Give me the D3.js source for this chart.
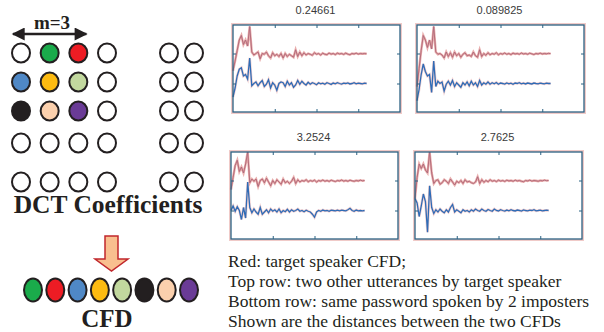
<!DOCTYPE html>
<html>
<head>
<meta charset="utf-8">
<script src="https://cdn.jsdelivr.net/npm/d3@7"></script>
<style>
  body { margin: 0; background: #fff; }
  svg { display: block; }
</style>
</head>
<body>
<svg id="fig" width="604" height="332"></svg>
<script>
// left panel: DCT coefficient grid and the CFD made from it
const gridRows = [0, 1, 2, 3, 4]
const gridCols = [0, 1, 2, 3]
const tailCols = [0, 1]
const gridColors = [
  [null, "#1aab4b", "#ed1c24", null],
  ["#4f88c6", "#fdbb11", "#c2d89e", null],
  ["#231f20", "#fbd0ad", "#6a3b96", null]
]
const cfdColors = ["#1aab4b", "#ed1c24", "#4f88c6", "#fdbb11", "#c2d89e", "#231f20", "#fbd0ad", "#6a3b96"]

// right panel: 4 small plots
const plotTitles = ["0.24661", "0.089825", "3.2524", "2.7625"]
const xTicks = [20, 40, 60]
const yTicks = [-1, 1]

const red1 = [-0.15,0.5,1.2,1.9,2.2,1.6,1.9,1.5,2.8,1.1,0.9,1.0,1.1,0.65,1.0,0.95,1.1,0.85,0.7,1.05,0.85,0.95,0.8,1.0,0.7,1.0,0.8,0.95,0.85,0.75,1.25,0.8,1.1,0.85,1.05,0.9,1.0,0.95,0.88,1.05,0.95,1.0,0.9,1.02,0.95,0.92,1.03,0.96,1.0,0.93,1.02,0.97,1.0,0.94,1.02,0.96,0.92,1.0,0.97,1.02,0.96,1.0,0.98,1.0,0.98]
const blue1 = [-1.9,-1.3,-0.5,-0.05,0.05,-0.5,-0.4,-0.7,0.7,-1.15,-1.0,-0.9,-1.15,-0.95,-0.8,-1.2,-1.05,-0.75,-1.3,-0.95,-1.1,-1.45,-1.0,-0.9,-0.95,-1.2,-0.85,-1.1,-0.95,-1.25,-1.1,-0.8,-1.05,-0.85,-1.0,-1.1,-0.92,-1.05,-0.95,-1.0,-1.08,-0.95,-1.02,-0.98,-1.05,-0.95,-1.0,-1.06,-0.97,-1.02,-0.95,-1.0,-1.04,-0.98,-1.0,-0.96,-1.03,-1.0,-0.95,-1.02,-0.98,-1.0,-1.02,-0.98,-1.0]
const red2 = [-1.2,0.0,1.2,2.2,1.9,1.4,1.9,1.3,2.8,1.1,0.95,1.0,0.9,0.7,1.1,0.8,1.05,0.75,1.1,0.85,1.0,0.75,0.95,1.05,0.85,0.9,0.8,1.1,0.85,0.75,1.25,0.8,1.0,0.88,1.05,0.92,1.0,0.95,1.05,0.92,1.0,0.96,1.03,0.95,1.0,0.93,1.02,0.97,1.0,0.95,1.03,0.97,1.0,0.95,1.02,0.98,0.93,1.0,0.97,1.02,0.97,1.0,0.98,1.01,0.99]
const blue2 = [-2.15,-1.4,-0.4,0.3,-0.2,-0.5,-0.4,-1.6,0.5,-1.2,-0.85,-1.0,-0.9,-1.5,-1.05,-0.85,-1.1,-0.8,-1.2,-0.95,-1.1,-1.25,-0.95,-1.1,-0.9,-1.15,-0.85,-1.1,-0.95,-1.2,-0.8,-1.1,-0.95,-1.05,-0.9,-1.05,-0.95,-1.02,-0.93,-1.05,-0.97,-1.0,-1.04,-0.96,-1.02,-0.98,-1.05,-0.97,-1.0,-0.95,-1.02,-0.98,-1.03,-0.97,-1.0,-1.03,-0.97,-1.0,-1.02,-0.97,-1.0,-1.02,-0.98,-1.0,-1.0]
const red3 = [0.4,1.2,2.0,2.35,1.6,1.9,1.5,2.1,2.9,0.85,1.1,0.95,1.1,0.6,1.0,1.1,0.85,1.15,0.9,0.65,1.0,0.8,1.05,0.9,0.75,1.1,0.85,0.95,0.8,0.95,1.2,0.8,1.05,0.9,1.0,0.95,1.05,0.92,1.0,0.95,1.02,0.9,1.0,0.96,1.03,0.95,1.0,0.94,1.02,0.97,0.93,1.0,0.97,1.03,0.96,1.0,0.95,1.02,0.98,0.95,1.0,0.97,1.02,0.98,1.0]
const blue3 = [-1.0,-0.7,-1.05,-0.75,-1.0,-1.6,-0.8,-1.5,0.9,-0.8,-1.15,-0.9,-1.1,-1.25,-0.8,-1.25,-1.1,-0.95,-1.15,-0.9,-1.05,-0.95,-1.1,-0.9,-1.15,-1.0,-1.08,-0.92,-1.1,-0.95,-1.05,-1.0,-0.9,-1.05,-1.0,-1.08,-0.98,-1.05,-1.1,-1.25,-1.45,-1.1,-1.0,-1.05,-0.97,-1.02,-1.0,-1.05,-0.98,-1.0,-1.03,-0.98,-1.02,-0.97,-1.0,-1.02,-0.95,-0.85,-1.0,-1.05,-0.97,-1.02,-1.0,-1.03,-1.0]
const red4 = [-0.2,1.2,2.1,1.8,2.1,1.7,1.5,2.9,1.5,0.8,1.0,1.05,0.75,0.85,1.05,0.95,0.8,1.1,0.9,0.7,0.95,0.85,1.0,0.8,1.05,0.9,0.95,0.85,0.8,0.9,1.25,0.8,1.05,0.88,1.0,0.92,1.05,0.95,1.0,0.93,1.02,0.96,1.0,0.94,1.02,0.97,1.0,0.95,1.02,0.97,1.0,0.95,0.92,1.0,0.97,1.02,0.96,1.0,0.98,0.95,1.0,0.98,1.02,0.99,1.0]
const blue4 = [-0.2,-0.5,-1.4,-0.7,0.1,-0.4,-2.45,0.65,-0.8,-1.2,-0.95,-1.1,-0.9,-1.05,-1.15,-0.95,-1.1,-0.8,-0.6,-1.1,-0.95,-1.05,-1.15,-0.95,-1.05,-1.0,-1.1,-0.95,-1.05,-0.9,-1.0,-1.05,-0.9,-1.0,-1.05,-0.93,-1.0,-1.05,-0.9,-1.0,-1.03,-0.95,-1.0,-1.04,-0.97,-1.02,-0.95,-1.0,-1.03,-0.97,-1.0,-1.04,-0.96,-1.0,-1.02,-0.97,-1.0,-0.95,-1.02,-1.0,-0.97,-1.02,-1.0,-0.98,-1.0]

const captionLines = [
  "Red: target speaker CFD;",
  "Top row: two other utterances by target speaker",
  "Bottom row: same password spoken by 2 imposters",
  "Shown are the distances between the two CFDs"
]

const svg = d3.select("#fig")
const serif = "Liberation Serif"
const ink = "#231f20"

function heading(xp, yp, size, txt) {
  svg.append("text")
    .attr("x", xp).attr("y", yp)
    .attr("text-anchor", "middle")
    .attr("font-family", serif).attr("font-weight", "bold").attr("font-size", size)
    .attr("fill", ink)
    .text(txt)
}

// ---------- left panel ----------
const colX = d3.scalePoint().domain(gridCols).range([21, 107])
const tailX = d3.scalePoint().domain(tailCols).range([169, 194])
const rowY = d3.scaleOrdinal().domain(gridRows).range([53, 82, 111, 143, 182])

const cells = []
gridRows.forEach(r => {
  gridCols.forEach(c => cells.push({x: colX(c), y: rowY(r), fill: (gridColors[r] && gridColors[r][c]) || "#fff"}))
  tailCols.forEach(c => cells.push({x: tailX(c), y: rowY(r), fill: "#fff"}))
})

svg.append("g").selectAll("ellipse")
  .data(cells)
  .join("ellipse")
    .attr("cx", d => d.x)
    .attr("cy", d => d.y)
    .attr("rx", 9)
    .attr("ry", 9.5)
    .attr("fill", d => d.fill)
    .attr("stroke", ink)
    .attr("stroke-width", 2)

// m=3 double arrow
const defs = svg.append("defs")
defs.append("marker")
  .attr("id", "ah")
  .attr("viewBox", "0 0 10 10")
  .attr("refX", 9).attr("refY", 5)
  .attr("markerWidth", 16).attr("markerHeight", 13)
  .attr("markerUnits", "userSpaceOnUse")
  .attr("orient", "auto-start-reverse")
  .append("path").attr("d", "M0,0L10,5L0,10Z").attr("fill", ink)

svg.append("line")
  .attr("x1", colX(0) - 8).attr("x2", colX(2) + 8)
  .attr("y1", 34).attr("y2", 34)
  .attr("stroke", ink).attr("stroke-width", 2.5)
  .attr("marker-start", "url(#ah)").attr("marker-end", "url(#ah)")

heading(52, 29, 19, "m=3")
heading(108, 213, 25.5, "DCT Coefficients")

// down arrow
svg.append("path")
  .attr("d", "M105,236 L118,236 L118,259 L128,259 L111.5,271 L95,259 L105,259 Z")
  .attr("fill", "#f9bf8f")
  .attr("stroke", "#c1272d")
  .attr("stroke-width", 1.5)

const cfdX = d3.scalePoint().domain(d3.range(cfdColors.length)).range([33, 189])
svg.append("g").selectAll("ellipse")
  .data(cfdColors)
  .join("ellipse")
    .attr("cx", (d, i) => cfdX(i))
    .attr("cy", 290)
    .attr("rx", 9)
    .attr("ry", 11.5)
    .attr("fill", d => d)
    .attr("stroke", ink)
    .attr("stroke-width", 2)

heading(107, 327, 25, "CFD")

// ---------- right panel ----------
const plotW = 167, plotH = 87
const plots = [
  {x0: 233, y0: 25, title: plotTitles[0], red: red1, blue: blue1},
  {x0: 417, y0: 25, title: plotTitles[1], red: red2, blue: blue2},
  {x0: 231, y0: 152, title: plotTitles[2], red: red3, blue: blue3},
  {x0: 415, y0: 152, title: plotTitles[3], red: red4, blue: blue4}
]

const x = d3.scaleLinear().domain([0, 80]).range([0, plotW])
const y = d3.scaleLinear().domain([-2.9, 2.9]).range([plotH, 0])
const line = d3.line().x((d, i) => x(i)).y(d => y(d))

plots.forEach(p => {
  const g = svg.append("g").attr("transform", `translate(${p.x0},${p.y0})`)

  g.append("text")
    .attr("x", plotW / 2 - 1).attr("y", -11)
    .attr("text-anchor", "middle")
    .attr("font-family", "Liberation Sans, Arial, sans-serif")
    .attr("font-size", 11)
    .attr("fill", "#3a3a3a")
    .text(p.title)

  // faint pink halo round the frame
  g.append("rect")
    .attr("x", -1).attr("y", -1)
    .attr("width", plotW + 2).attr("height", plotH + 2)
    .attr("fill", "none").attr("stroke", "#e9b4b0").attr("stroke-width", 2).attr("opacity", 0.7)

  // upper trace: red with a faint blue overlay
  g.append("path").datum(p.red)
    .attr("d", line).attr("fill", "none")
    .attr("stroke", "#e49a98").attr("stroke-width", 2.4).attr("opacity", 0.8)
  g.append("path").datum(p.red)
    .attr("d", line).attr("fill", "none")
    .attr("stroke", "#c96b70").attr("stroke-width", 1)
  g.append("path").datum(p.red)
    .attr("d", line).attr("fill", "none")
    .attr("stroke", "#5a78b8").attr("stroke-width", 0.6).attr("opacity", 0.3)

  // lower trace: blue with a pink halo
  g.append("path").datum(p.blue)
    .attr("d", line).attr("fill", "none")
    .attr("stroke", "#e7a7a7").attr("stroke-width", 2.6).attr("opacity", 0.55)
  g.append("path").datum(p.blue)
    .attr("d", line).attr("fill", "none")
    .attr("stroke", "#2f6cb6").attr("stroke-width", 1.3)

  const axes = [
    {ax: d3.axisBottom(x).tickValues(xTicks), t: `translate(0,${plotH})`},
    {ax: d3.axisTop(x).tickValues(xTicks), t: "translate(0,0)"},
    {ax: d3.axisLeft(y).tickValues(yTicks), t: "translate(0,0)"},
    {ax: d3.axisRight(y).tickValues(yTicks), t: `translate(${plotW},0)`}
  ]
  axes.forEach(a => {
    const ag = g.append("g").attr("transform", a.t)
      .call(a.ax.tickSize(-3).tickFormat(""))
    ag.select(".domain").remove()
    ag.selectAll("line").attr("stroke", "#2b6283").attr("stroke-width", 1)
  })

  g.append("rect")
    .attr("width", plotW).attr("height", plotH)
    .attr("fill", "none").attr("stroke", "#2b6283").attr("stroke-width", 1.3)
})

// caption
svg.append("g").selectAll("text")
  .data(captionLines)
  .join("text")
    .attr("x", 228)
    .attr("y", (d, i) => 267 + i * 20)
    .attr("font-family", serif)
    .attr("font-size", 17.5)
    .attr("fill", ink)
    .text(d => d)
</script>
</body>
</html>
